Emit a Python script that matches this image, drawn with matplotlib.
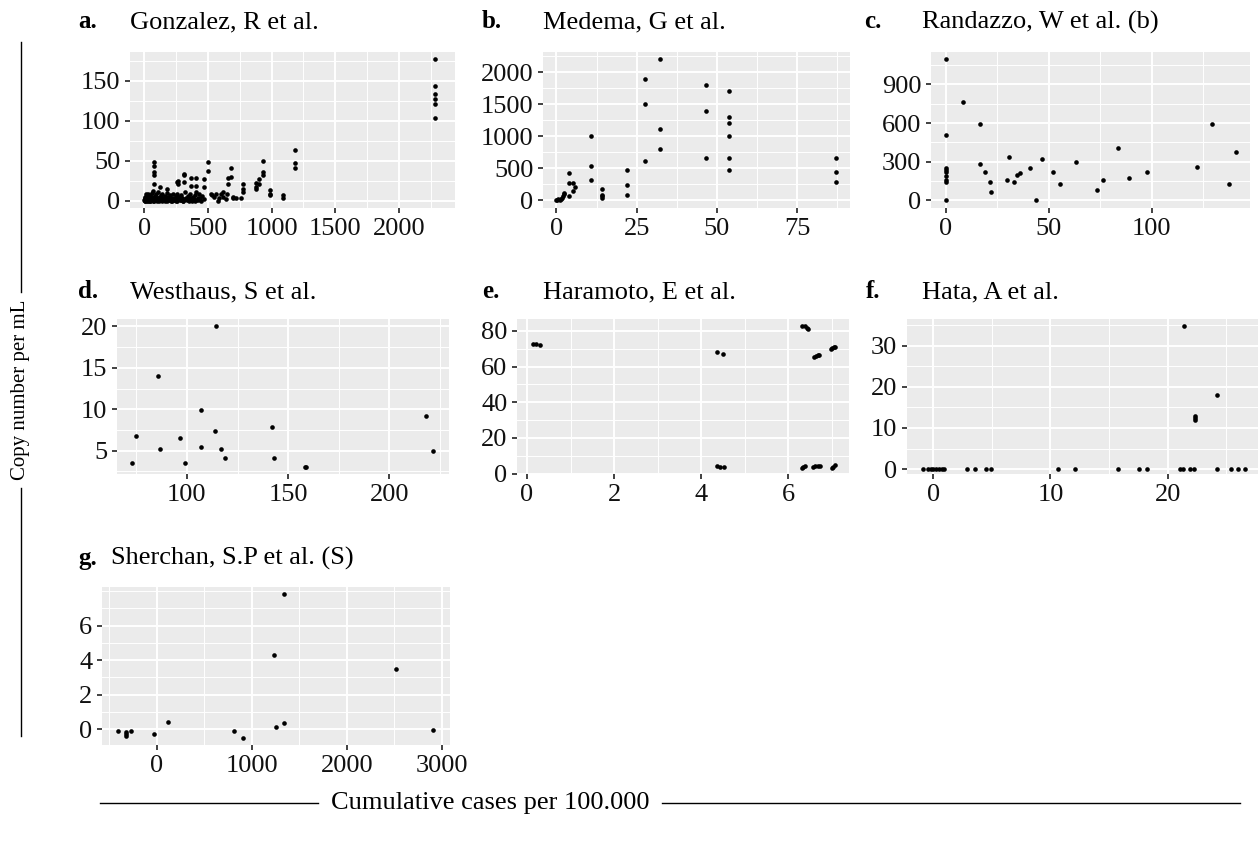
import matplotlib
matplotlib.use("Agg")
import matplotlib.pyplot as plt
from matplotlib.ticker import AutoMinorLocator
from matplotlib.lines import Line2D

plt.rcParams['font.family'] = ['Liberation Serif', 'DejaVu Serif']

# ---- data ----
# a. Gonzalez
gonz_x = [0, 3, 6, 9, 12, 15, 18, 21, 24, 27,
          30, 33, 36, 40, 44, 48, 52, 56, 60, 64,
          68, 72, 76, 80, 85, 90, 95, 100, 105, 110,
          115, 120, 125, 130, 136, 142, 148, 154, 160, 166,
          172, 178, 184, 190, 197, 204, 211, 218, 225, 232,
          239, 246, 253, 260, 268, 276, 284, 292, 300, 308,
          316, 324, 332, 340, 348, 356, 364, 372, 380, 390,
          400, 410, 420, 430, 440, 455, 470,
          2, 8, 14, 20, 26, 32, 38, 46, 54, 62,
          70, 78, 88, 98, 108, 118, 128, 140, 152, 164,
          176, 188, 200, 214, 228, 242, 256, 270, 286, 302,
          318, 334, 350, 366, 384, 402, 420, 445,
          74, 74, 74, 74, 74, 121, 179, 265, 265, 315,
          315, 315, 368, 368, 410, 410, 410, 468, 468, 502,
          502, 521, 560, 579, 621, 621, 658, 658, 679, 679,
          694, 763, 778, 778, 778, 878, 878, 878, 902, 902,
          936, 936, 936, 989, 989, 989, 1086, 1086, 1183, 1183,
          1183, 530, 545, 590, 600, 640, 650, 700, 720, 258,
          2280, 2280, 2280, 2280, 2280, 2280]
gonz_y = [1, 3, 0, 5, 2, 8, 1, 4, 0, 6,
          2, 9, 1, 3, 7, 0, 4, 2, 10, 5,
          1, 12, 3, 0, 6, 2, 8, 1, 4, 11,
          0, 5, 3, 7, 1, 9, 2, 4, 0, 6,
          3, 10, 1, 5, 2, 7, 0, 4, 8, 1,
          3, 6, 0, 9, 2, 5, 1, 7, 3, 0,
          11, 4, 2, 6, 1, 8, 3, 0, 5, 2,
          7, 1, 4, 9, 3, 6, 2,
          0, 2, 1, 3, 0, 1, 2, 0, 3, 1,
          0, 2, 1, 0, 3, 1, 2, 0, 1, 3,
          0, 2, 1, 0, 2, 1, 0, 3, 1, 0,
          2, 1, 0, 1, 2, 0, 1, 0,
          48, 44, 36, 32, 21, 17, 15, 25, 21, 34,
          32, 23, 29, 19, 29, 19, 11, 27, 17, 48,
          37, 9, 9, 0, 11, 5, 21, 29, 41, 30,
          5, 3, 21, 15, 11, 22, 17, 15, 27, 21,
          50, 36, 32, 13, 9, 7, 7, 3, 63, 47,
          41, 7, 5, 3, 8, 2, 8, 3, 4, 23,
          177, 144, 133, 127, 121, 103]

# b. Medema
med_x = [0, 0.3, 0.6, 1.0, 1.3, 1.6, 2.0, 2.2, 2.4, 4.0,
         4.0, 5.0, 5.2, 5.7, 4.0, 10.8, 10.8, 10.8, 14.2, 14.2,
         14.2, 14.2, 21.9, 21.9, 21.9, 27.7, 27.7, 27.7, 32.3, 32.3,
         32.3, 46.5, 46.5, 46.5, 53.9, 53.9, 53.9, 53.9, 53.9, 53.9,
         87.0, 87.0, 87.0]
med_y = [0, 5, 12, 0, 20, 35, 60, 90, 115, 421,
         265, 265, 135, 200, 68, 1000, 530, 312, 177, 83,
         57, 31, 473, 229, 83, 1903, 1503, 614, 2205, 1108,
         796, 1804, 1399, 660, 1706, 1305, 1201, 998, 660, 463,
         665, 432, 276]

# c. Randazzo (b)
rand_x = [0, 0, 0, 0, 0, 0, 0, 0, 0, 8.4,
          16.7, 16.5, 19.0, 21.4, 21.9, 29.7, 30.5, 32.9, 34.7, 35.8,
          40.7, 43.9, 46.5, 51.9, 55.6, 63.2, 73.6, 76.2, 83.5, 88.8,
          97.6, 122.0, 129.3, 137.6, 140.8]
rand_y = [1096, 504, 253, 235, 215, 184, 158, 137, 0, 765,
          592, 284, 215, 140, 62, 153, 334, 140, 194, 207,
          248, 0, 323, 220, 127, 295, 78, 155, 406, 168,
          215, 261, 592, 127, 375]

# d. Westhaus
west_x = [72.9, 74.7, 85.9, 86.8, 96.7, 99.0, 107.2, 107.2, 114.3, 114.1,
          116.9, 118.6, 141.9, 142.8, 158.2, 158.9, 218.1, 221.7]
west_y = [3.47, 6.73, 13.97, 5.16, 6.53, 3.55, 9.87, 5.44, 20.0, 7.33,
          5.16, 4.12, 7.85, 4.12, 2.99, 2.99, 9.14, 4.92]

# e. Haramoto
hara_x = [0.14, 0.21, 0.30, 4.36, 4.49, 4.36, 4.42, 4.51,
          6.31, 6.38, 6.42, 6.44, 6.59, 6.63, 6.67, 6.71,
          6.97, 7.00, 7.04, 7.06, 6.31, 6.34, 6.38, 6.56, 6.62,
          6.68, 6.73, 6.99, 7.02, 7.06]
hara_y = [72.5, 72.6, 72.4, 68.0, 67.1, 4.5, 3.6, 3.6,
          82.8, 82.5, 81.6, 80.9, 65.2, 65.9, 66.3, 66.5,
          70.1, 70.6, 71.0, 71.2, 3.0, 4.0, 4.5, 4.0, 4.3,
          4.4, 4.5, 3.0, 4.0, 5.0]

# f. Hata
hata_x = [-0.85, -0.43, -0.22, 0, 0.23, 0.48, 0.71, 0.91, 2.87, 3.58,
          4.49, 4.89, 10.6, 12.1, 15.75, 17.56, 18.2, 21.03, 21.31, 21.94,
          22.25, 24.24, 25.38, 26.0, 26.57, 21.35, 22.31, 22.31, 22.31, 24.24]
hata_y = [0, 0, 0, 0, 0, 0, 0, 0, 0, 0,
          0, 0, 0, 0, 0, 0, 0, 0, 0, 0,
          0, 0, 0, 0, 0, 34.8, 13.0, 12.5, 11.9, 17.9]

# g. Sherchan (S)
sher_x = [-404, -323, -323, -323, -274, -25, 122, 817, 908, 1232,
          1253, 1337, 1340, 2516, 2909]
sher_y = [-0.10, -0.16, -0.26, -0.38, -0.09, -0.28, 0.40, -0.12, -0.49, 4.28,
          0.13, 0.36, 7.82, 3.51, -0.05]

W, H = 1260, 841
fig = plt.figure(figsize=(W / 100, H / 100), dpi=100)


def panel(l, t, r, b, xs, ys, xlim, ylim, xt, yt):
    ax = fig.add_axes([l / W, 1 - b / H, (r - l) / W, (b - t) / H])
    ax.set_facecolor('#EBEBEB')
    for s in ax.spines.values():
        s.set_visible(False)
    ax.scatter(xs, ys, s=11, color='black', linewidths=0, zorder=3)
    ax.set_xlim(*xlim)
    ax.set_ylim(*ylim)
    ax.set_xticks(xt)
    ax.set_yticks(yt)
    ax.xaxis.set_minor_locator(AutoMinorLocator(2))
    ax.yaxis.set_minor_locator(AutoMinorLocator(2))
    ax.grid(which='major', color='white', lw=1.4)
    ax.grid(which='minor', color='white', lw=0.7)
    ax.set_axisbelow(True)
    ax.tick_params(which='major', length=3.5, width=1.3, color='#333333',
                   labelsize=19, labelcolor='#111111', pad=3.5)
    ax.tick_params(which='minor', length=0)
    return ax


def title(tag, tx, name, nx, y):
    fig.text(tx / W, 1 - y / H, tag, fontsize=18, fontweight='bold', va='center')
    fig.text(nx / W, 1 - y / H, name, fontsize=19, va='center')


panel(130, 52, 455, 208, gonz_x, gonz_y, (-112, 2440), (-9, 186),
      [0, 500, 1000, 1500, 2000], [0, 50, 100, 150])
panel(543, 52, 850, 208, med_x, med_y, (-4.2, 91.5), (-125, 2320),
      [0, 25, 50, 75], [0, 500, 1000, 1500, 2000])
panel(931, 52, 1250, 208, rand_x, rand_y, (-7.3, 147.8), (-62, 1153),
      [0, 50, 100], [0, 300, 600, 900])
panel(117, 319, 449, 474, west_x, west_y, (65.5, 229.4), (2.19, 20.9),
      [100, 150, 200], [5, 10, 15, 20])
panel(517, 319, 849, 474, hara_x, hara_y, (-0.23, 7.39), (-0.2, 86.7),
      [0, 2, 4, 6], [0, 20, 40, 60, 80])
panel(907, 319, 1258, 474, hata_x, hata_y, (-2.24, 27.7), (-1.2, 36.5),
      [0, 10, 20], [0, 10, 20, 30])
panel(102, 587, 450, 745, sher_x, sher_y, (-576, 3087), (-0.92, 8.24),
      [0, 1000, 2000, 3000], [0, 2, 4, 6])

title('a.', 78, 'Gonzalez, R et al.', 130, 22)
title('b.', 482, 'Medema, G et al.', 543, 22)
title('c.', 864, 'Randazzo, W et al. (b)', 922, 22)
title('d.', 78, 'Westhaus, S et al.', 130, 292)
title('e.', 482, 'Haramoto, E et al.', 543, 292)
title('f.', 866, 'Hata, A et al.', 922, 292)
title('g.', 78, 'Sherchan, S.P et al. (S)', 111, 558)

# shared axis titles with rules on each side
fig.text(21 / W, 1 - 390 / H, 'Copy number per mL', rotation=90,
         fontsize=15, ha='center', va='center')
fig.add_artist(Line2D([21 / W, 21 / W], [1 - 42 / H, 1 - 292 / H], color='black', lw=1))
fig.add_artist(Line2D([21 / W, 21 / W], [1 - 488 / H, 1 - 736 / H], color='black', lw=1))

fig.text(490 / W, 1 - 803 / H, 'Cumulative cases per 100.000',
         fontsize=19, ha='center', va='center')
fig.add_artist(Line2D([100 / W, 318 / W], [1 - 803 / H, 1 - 803 / H], color='black', lw=1))
fig.add_artist(Line2D([662 / W, 1240 / W], [1 - 803 / H, 1 - 803 / H], color='black', lw=1))

fig.savefig('out.png', dpi=100)
